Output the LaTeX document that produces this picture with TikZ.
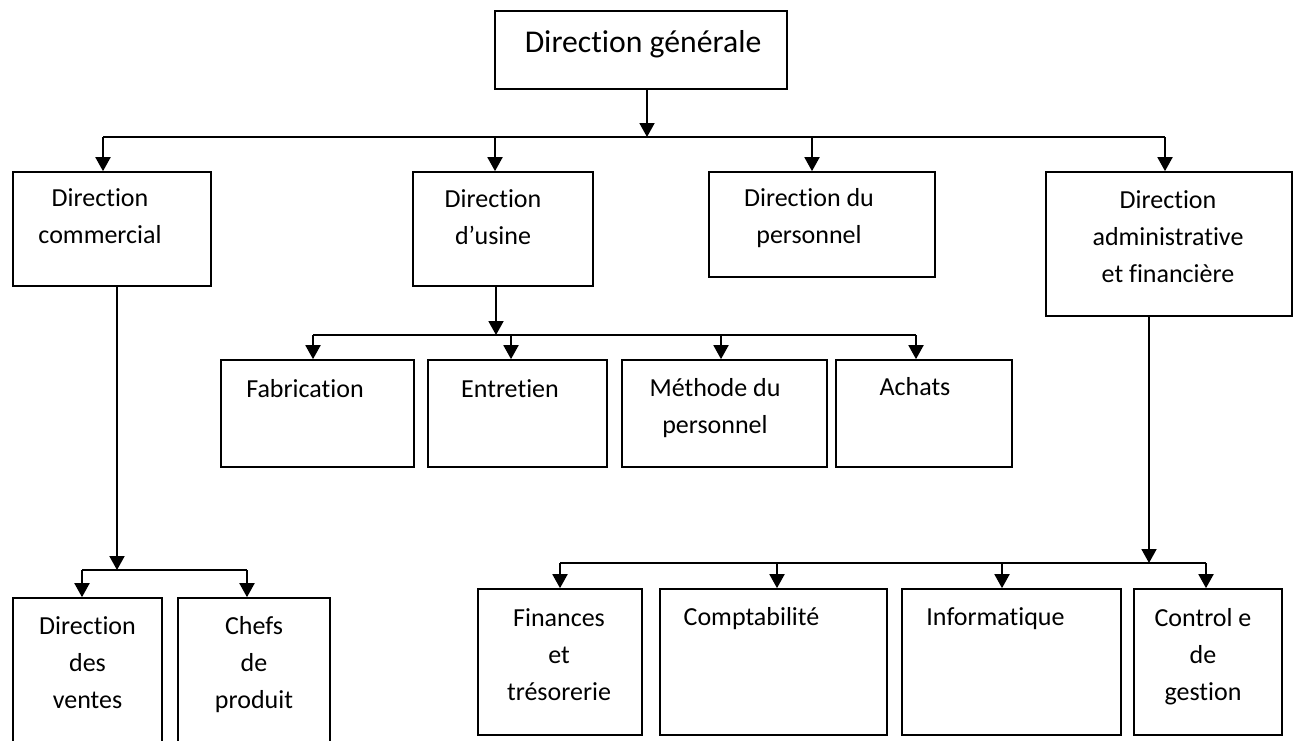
\documentclass[tikz,border=0pt]{standalone}
\usepackage{fontspec}
\setmainfont[Ligatures=NoCommon]{Carlito}
\usetikzlibrary{arrows.meta}
\begin{document}
\begin{tikzpicture}[x=1pt,y=-1pt,
  box/.style={draw, line width=1.7pt, rectangle, inner sep=0pt},
  % labels are placed by the baseline of their last line
  txt/.style={anchor=base, align=center, inner sep=0pt,
    font=\fontsize{26}{37}\selectfont},
  line/.style={line width=1.9pt},
  arr/.style={line width=1.9pt, -{Triangle[width=15pt,length=14pt]}}]
\clip (0,0) rectangle (1298,740);
\fill[white] (0,0) rectangle (1298,740);

% boxes: level 0 and 1
\node[box, minimum width=292, minimum height=78] (top) at (641,50) {};
\node[box, minimum width=198, minimum height=114] (com) at (112,229) {};
\node[box, minimum width=180, minimum height=114] (usi) at (503,229) {};
\node[box, minimum width=226, minimum height=105] (per) at (822,224.5) {};
\node[box, minimum width=246, minimum height=144] (adm) at (1169,244) {};
% factory departments
\node[box, minimum width=193, minimum height=107] (fab) at (317.5,413.5) {};
\node[box, minimum width=179, minimum height=107] (ent) at (517.5,413.5) {};
\node[box, minimum width=205, minimum height=107] (met) at (724.5,413.5) {};
\node[box, minimum width=176, minimum height=107] (ach) at (924,413.5) {};
% sales departments
\node[box, minimum width=149, minimum height=162] (ven) at (87.5,679) {};
\node[box, minimum width=152, minimum height=162] (che) at (254,679) {};
% finance departments
\node[box, minimum width=164, minimum height=146] (fin) at (560,662) {};
\node[box, minimum width=227, minimum height=146] (cpt) at (773.5,662) {};
\node[box, minimum width=219, minimum height=146] (inf) at (1011.5,662) {};
\node[box, minimum width=148, minimum height=146] (ctl) at (1208,662) {};

% labels
\node[txt, font=\fontsize{31.7}{38}\selectfont] (ttop) at (643,52) {Direction générale};
\node[txt] (tcom) at (100,243) {Direction\\commercial};
\node[txt] (tusi) at (493,244) {Direction\\d’usine};
\node[txt] (tper) at (809,243) {Direction du\\personnel};
\node[txt] (tadm) at (1168,282) {Direction\\administrative\\et financière};
\node[txt] (tfab) at (305,397) {Fabrication};
\node[txt] (tent) at (510,397) {Entretien};
\node[txt] (tmet) at (715,433) {Méthode du\\personnel};
\node[txt] (tach) at (915,395) {Achats};
\node[txt] (tven) at (87.5,708) {Direction\\des\\ventes};
\node[txt] (tche) at (254,708) {Chefs\\de\\produit};
\node[txt] (tfin) at (559,700) {Finances\\et\\trésorerie};
\node[txt] (tcpt) at (751.5,625) {Comptabilité};
\node[txt] (tinf) at (995.5,625) {Informatique};
\node[txt] (tctl) at (1203,700) {Control e\\de\\gestion};

% main bus
\coordinate (m0) at (647,137);
\coordinate (mL) at (103,137);
\coordinate (mU) at (495,137);
\coordinate (mP) at (812,137);
\coordinate (mR) at (1165,137);
\draw[arr] (top.south -| m0) -- (m0);
\draw[line] (mL) -- (mR);
\draw[arr] (mL) -- (mL |- com.north);
\draw[arr] (mU) -- (mU |- usi.north);
\draw[arr] (mP) -- (mP |- per.north);
\draw[arr] (mR) -- (mR |- adm.north);

% factory bus
\coordinate (u0) at (496,335);
\coordinate (uF) at (313,335);
\coordinate (uE) at (511,335);
\coordinate (uM) at (721,335);
\coordinate (uA) at (916,335);
\draw[arr] (usi.south -| u0) -- (u0);
\draw[line] (uF) -- (uA);
\draw[arr] (uF) -- (uF |- fab.north);
\draw[arr] (uE) -- (uE |- ent.north);
\draw[arr] (uM) -- (uM |- met.north);
\draw[arr] (uA) -- (uA |- ach.north);

% sales bus
\coordinate (c0) at (117,570);
\coordinate (cV) at (82,570);
\coordinate (cC) at (247,570);
\draw[arr] (com.south -| c0) -- (c0);
\draw[line] (cV) -- (cC);
\draw[arr] (cV) -- (cV |- ven.north);
\draw[arr] (cC) -- (cC |- che.north);

% finance bus
\coordinate (a0) at (1149,563);
\coordinate (aF) at (560,563);
\coordinate (aC) at (777,563);
\coordinate (aI) at (1002,563);
\coordinate (aG) at (1206,563);
\draw[arr] (adm.south -| a0) -- (a0);
\draw[line] (aF) -- (aG);
\draw[arr] (aF) -- (aF |- fin.north);
\draw[arr] (aC) -- (aC |- cpt.north);
\draw[arr] (aI) -- (aI |- inf.north);
\draw[arr] (aG) -- (aG |- ctl.north);
\end{tikzpicture}
\end{document}
